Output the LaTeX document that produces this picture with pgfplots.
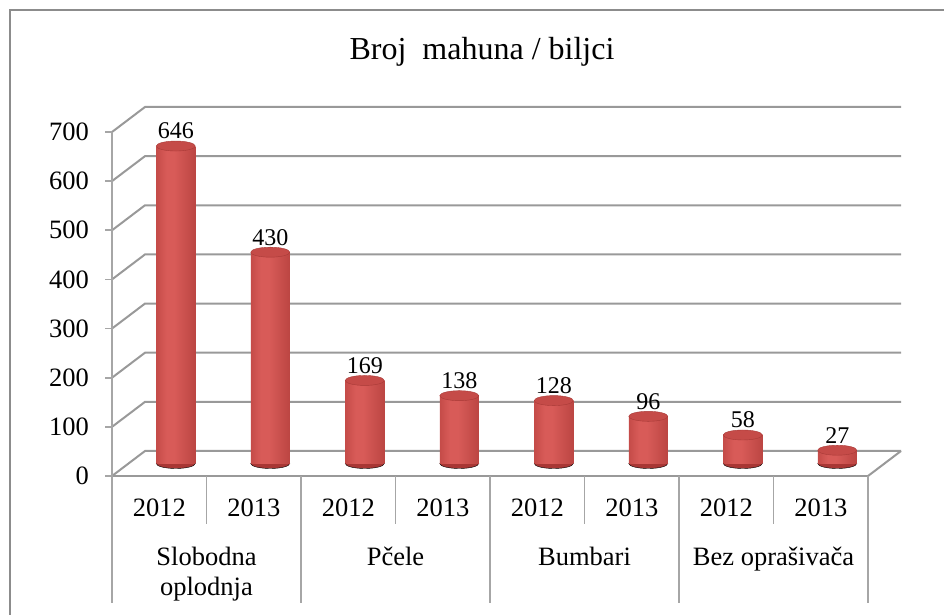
\documentclass[border=0pt]{standalone}
\usepackage{fontspec}
\setmainfont{Liberation Serif}
\usepackage{pgfplots}
\pgfplotsset{compat=1.18}
\definecolor{gridc}{HTML}{999999}
\definecolor{tablec}{HTML}{A6A6A6}
\definecolor{borderc}{HTML}{8C8C8C}
\definecolor{cylEdge}{HTML}{8E2624}
\definecolor{cylL}{HTML}{B23C39}
\definecolor{cylM}{HTML}{D85B58}
\definecolor{cylR}{HTML}{B4403D}
\definecolor{cylB}{HTML}{A83634}
\definecolor{cylT}{HTML}{C54B48}
\definecolor{cylE}{HTML}{A83A37}
\pgfdeclarehorizontalshading{cyl}{100bp}{color(0bp)=(cylEdge); color(12bp)=(cylL); color(38bp)=(cylM); color(48bp)=(cylM); color(82bp)=(cylR); color(100bp)=(cylEdge)}
\pgfplotsset{cylbar/.style={ybar, bar width=39pt, bar shift=0pt, draw=none, shading=cyl}}
\begin{document}
\begin{tikzpicture}[x=1pt,y=1pt]
\useasboundingbox (0,0) rectangle (944,615);
\draw[color=borderc, line width=1.3pt] (10,-5) -- (10,605) -- (950,605);
\node[font=\fontsize{32}{36}\selectfont] at (482,563) {Broj\ \ mahuna / biljci};
\begin{axis}[
  at={(112pt,139pt)}, anchor=south west,
  scale only axis, width=756pt, height=344pt,
  xmin=0, xmax=8, ymin=0, ymax=700,
  axis line style={draw=none},
  tick style={draw=none}, major tick length=0pt,
  ytick={0,100,...,700},
  /pgf/number format/assume math mode=true,
  yticklabel style={anchor=east, inner sep=0pt, xshift=-23pt, font=\fontsize{26.5}{30}\selectfont},
  xtick={0.5,1.5,...,7.5},
  xticklabels={2012,2013,2012,2013,2012,2013,2012,2013},
  xticklabel style={anchor=center, yshift=-32pt, font=\fontsize{26.5}{30}\selectfont},
  extra x ticks={1,3,5,7},
  extra x tick labels={{Slobodna\\oplodnja}, {P\v{c}ele}, {Bumbari}, {Bez opra\v{s}iva\v{c}a}},
  extra x tick style={xticklabel style={anchor=north, yshift=-36pt, align=center}},
  clip=false,
]
\pgfplotsinvokeforeach{0,100,200,300,400,500,600,700}{
  \draw[color=gridc, line width=2pt] (axis cs:0,#1) -- ++(33pt,25pt) -- ([shift={(33pt,25pt)}]axis cs:8,#1);
  \draw[color=tablec, line width=1.6pt] (axis cs:0,#1) -- ++(-7pt,0pt);
}
\draw[color=gridc, line width=2pt] (axis cs:8,0) -- ++(33pt,25pt);
\draw[color=gridc, line width=2pt] (axis cs:0,0) -- (axis cs:8,0);
\draw[color=tablec, line width=1.6pt] (axis cs:0,700) -- (axis cs:0,0) -- ++(0pt,-127pt);
\pgfplotsinvokeforeach{2,4,6,8}{
  \draw[color=tablec, line width=1.6pt] (axis cs:#1,0) -- ++(0pt,-127pt);
}
\pgfplotsinvokeforeach{1,3,5,7}{
  \draw[color=tablec, line width=1.6pt] (axis cs:#1,0) -- ++(0pt,-48pt);
}
\end{axis}
% bottom ellipses of the cylinders
\begin{axis}[
  at={(128.5pt,151.5pt)}, anchor=south west,
  scale only axis, width=756pt, height=344pt,
  xmin=0, xmax=8, ymin=0, ymax=700,
  hide axis, clip=false,
]
\addplot[only marks, mark=*, mark size=5pt, mark options={xscale=3.9, draw=none, fill=cylB}]
  coordinates {(0.5,0) (1.5,0) (2.5,0) (3.5,0) (4.5,0) (5.5,0) (6.5,0) (7.5,0)};
\end{axis}
% cylinder bodies
\begin{axis}[
  at={(128.5pt,151.5pt)}, anchor=south west,
  scale only axis, width=756pt, height=344pt,
  xmin=0, xmax=8, ymin=0, ymax=700,
  hide axis, clip=false,
]
\addplot[cylbar] coordinates {(0.5,646)};
\addplot[cylbar] coordinates {(1.5,430)};
\addplot[cylbar] coordinates {(2.5,169)};
\addplot[cylbar] coordinates {(3.5,138)};
\addplot[cylbar] coordinates {(4.5,128)};
\addplot[cylbar] coordinates {(5.5,96)};
\addplot[cylbar] coordinates {(6.5,58)};
\addplot[cylbar] coordinates {(7.5,27)};
\end{axis}
% top ellipses and value labels
\begin{axis}[
  at={(128.5pt,151.5pt)}, anchor=south west,
  scale only axis, width=756pt, height=344pt,
  xmin=0, xmax=8, ymin=0, ymax=700,
  hide axis, clip=false,
  /pgf/number format/assume math mode=true,
]
\addplot[only marks, mark=*, mark size=5pt, mark options={xscale=3.9, draw=cylE, line width=0.4pt, fill=cylT},
  nodes near coords, every node near coord/.append style={font=\fontsize{24}{28}\selectfont, anchor=center, yshift=15pt}]
  coordinates {(0.5,646) (1.5,430) (2.5,169) (3.5,138) (4.5,128) (5.5,96) (6.5,58) (7.5,27)};
\end{axis}
\end{tikzpicture}
\end{document}
